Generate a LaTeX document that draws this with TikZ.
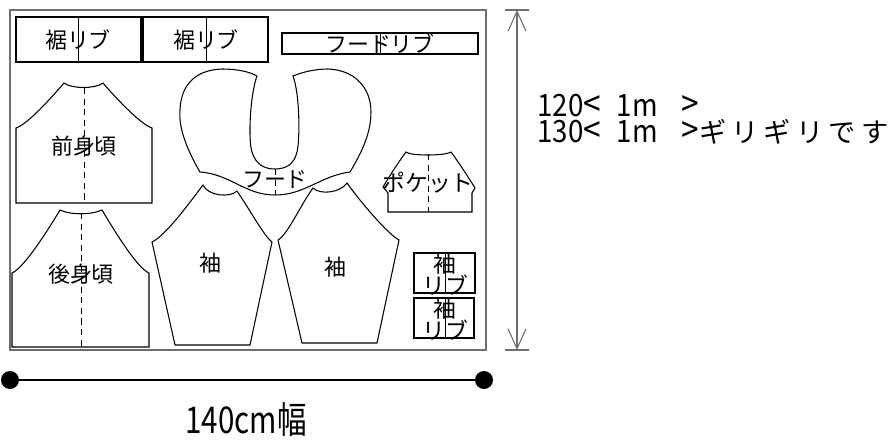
\documentclass[tikz,border=0pt]{standalone}
\usepackage{fontspec}
\setmainfont{Noto Sans CJK JP}
\usetikzlibrary{arrows.meta}
\definecolor{framegray}{RGB}{110,110,110}
\tikzset{
  piece/.style={draw=black, line width=0.6pt},
  fold/.style={line width=0.5pt, dash pattern=on 3.5pt off 2.5pt},
  ribfold/.style={line width=0.5pt},
  lbl/.style={font=\fontsize{12.5}{14}\selectfont, inner sep=0pt},
  cufflbl/.style={lbl, align=center, font=\fontsize{13}{12.5}\selectfont},
  qty/.style={font=\fontsize{17.5}{18}\selectfont, inner sep=0pt, anchor=base west,
    text height=12pt, text depth=0.5pt},
}
\newcommand{\bigangle}[1]{{\fontsize{20}{20}\selectfont #1}}
\newcommand{\lenpart}[1]{\scalebox{0.9}[1]{#1\bigangle{<}\hspace{10pt}1m\hspace{15pt}\bigangle{>}}}
\begin{document}
\begin{tikzpicture}[x=0.02cm, y=-0.02cm]
    \useasboundingbox (0,0) rectangle (894,440);
    % fabric
    \draw[line width=1.2pt, draw=framegray] (10,10) rectangle (486,350);
    % hem ribs and hood rib
    \draw[piece] (16,17) rectangle (141,62);
    \draw[ribfold] (78,17) -- (78,62);
    \node[lbl] (hemribA) at (78,40) {裾リブ};
    \draw[piece] (143,17) rectangle (268,62);
    \draw[ribfold] (206,17) -- (206,62);
    \node[lbl] (hemribB) at (206,40) {裾リブ};
    \draw[piece] (282,33) rectangle (478,54);
    \draw[ribfold] (380,33) -- (380,54);
    \node[lbl] (hoodrib) at (380,44) {フードリブ};
    % front body
    \draw[piece] (16,203) -- (16,128) .. controls (28,124) and (52,97) .. (64,83)
        .. controls (72,89) and (95,89) .. (103,83)
        .. controls (115,97) and (140,124) .. (152,128) -- (152,203) -- cycle;
    \draw[fold] (84,88) -- (84,203);
    \node[lbl] (front) at (84,146) {前身頃};
    % back body
    \draw[piece] (12,347) -- (12,273) .. controls (24,268) and (48,230) .. (60,210)
        .. controls (70,215) and (92,215) .. (102,210)
        .. controls (114,230) and (137,268) .. (149,273) -- (149,347) -- cycle;
    \draw[fold] (81,213) -- (81,347);
    \node[lbl] (back) at (81,274) {後身頃};
    % hood
    \draw[piece] (200,172) .. controls (190,155) and (178,130) .. (180,110)
        .. controls (181,85) and (195,70) .. (222,69)
        .. controls (238,69) and (250,72) .. (257,76)
        .. controls (250,95) and (248,140) .. (252,152)
        .. controls (256,165) and (265,169) .. (275,169)
        .. controls (285,169) and (294,165) .. (297,152)
        .. controls (300,140) and (300,95) .. (293,76)
        .. controls (303,72) and (315,69) .. (328,69)
        .. controls (355,70) and (371,88) .. (371,112)
        .. controls (371,135) and (360,155) .. (350,172)
        .. controls (320,176) and (305,195) .. (275,195)
        .. controls (245,195) and (230,174) .. (200,172) -- cycle;
    \draw[fold] (275,169) -- (275,195);
    \node[lbl] (hood) at (275,180) {フード};
    % sleeves
    \draw[piece] (152,242) .. controls (165,236) and (188,205) .. (203,185)
        .. controls (208,196) and (230,198) .. (237,191)
        .. controls (250,210) and (264,236) .. (272,242)
        -- (250,345) -- (175,345) -- cycle;
    \node[lbl] (sleeveA) at (210,263) {袖};
    \draw[piece] (278,240) .. controls (288,234) and (300,206) .. (313,188)
        .. controls (320,195) and (340,193) .. (347,183)
        .. controls (362,204) and (388,234) .. (399,240)
        -- (377,343) -- (302,343) -- cycle;
    \node[lbl] (sleeveB) at (335,267) {袖};
    % pocket
    \draw[piece] (388,212) -- (388,193) -- (383,187)
        .. controls (390,175) and (400,160) .. (406,152)
        .. controls (410,156) and (445,156) .. (451,152)
        .. controls (457,160) and (467,175) .. (475,188)
        -- (472,193) -- (472,212) -- cycle;
    \draw[fold] (428,154) -- (428,212);
    \node[lbl, font=\fontsize{13}{14}\selectfont] (pocket) at (428,183) {ポケット};
    % sleeve ribs
    \draw[piece] (414,253) rectangle (475,293);
    \draw[ribfold] (445,253) -- (445,293);
    \node[cufflbl] (cuffA) at (445,274) {袖\\リブ};
    \draw[piece] (414,298) rectangle (474,338);
    \draw[ribfold] (445,298) -- (445,338);
    \node[cufflbl] (cuffB) at (445,319) {袖\\リブ};
    % length
    \coordinate (htop) at (517,10);
    \coordinate (hbot) at (517,350);
    \draw[framegray, line width=0.6pt] (505,10) -- (529,10);
    \draw[framegray, line width=0.6pt] (505,350) -- (529,350);
    \draw[framegray, line width=0.6pt, {Straight Barb[length=4mm,width=3.6mm]}-{Straight Barb[length=4mm,width=3.6mm]}] (htop) -- (hbot);
    \node[qty] (lenA) at (537,116) {\lenpart{120}};
    \node[qty] (lenB) at (537,142) {\lenpart{130}{\fontsize{15.5}{16}\selectfont\addfontfeature{LetterSpace=19}ギリギリです}};
    % width
    \node[circle, fill=black, inner sep=0pt, minimum size=0.36cm] (wl) at (10,380) {};
    \node[circle, fill=black, inner sep=0pt, minimum size=0.36cm] (wr) at (484,380) {};
    \draw[line width=0.6pt] (wl) -- (wr);
    \node[font=\fontsize{21}{24}\selectfont, inner sep=0pt, anchor=base] (widthlbl) at (246,433) {\scalebox{0.8}[1]{140cm幅}};
\end{tikzpicture}
\end{document}
